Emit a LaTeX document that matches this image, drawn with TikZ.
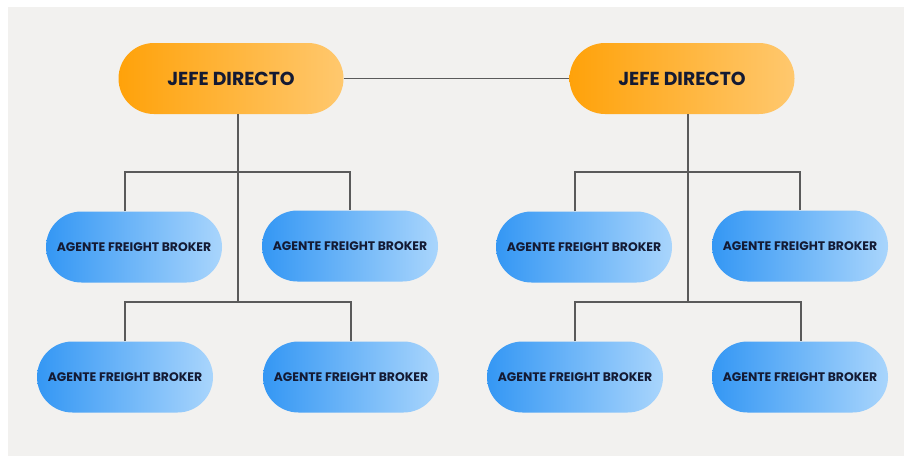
\documentclass[tikz,border=0pt]{standalone}
\usepackage{fontspec}
\setmainfont{Poppins}
\definecolor{bgpanel}{HTML}{F2F1EF}
\definecolor{linegray}{HTML}{5A5A5A}
\definecolor{txtnavy}{HTML}{141A33}
\definecolor{orangeL}{HTML}{FFA20A}
\definecolor{orangeR}{HTML}{FFC86E}
\definecolor{blueL}{HTML}{3497F4}
\definecolor{blueR}{HTML}{A9D5FC}
\tikzset{
  boss/.style={minimum width=225pt, minimum height=71pt, inner sep=0pt,
    rounded corners=35.5pt, left color=orangeL, right color=orangeR,
    font=\fontsize{18.8}{20}\selectfont\bfseries, text=txtnavy},
  agent/.style={minimum width=176pt, minimum height=71pt, inner sep=0pt,
    rounded corners=35.5pt, left color=blueL, right color=blueR,
    font=\fontsize{12.4}{14}\selectfont\bfseries, text=txtnavy},
  conn/.style={draw=linegray, line width=1.3pt}
}
\begin{document}
\begin{tikzpicture}[x=1pt,y=-1pt]
\useasboundingbox (0,0) rectangle (904,456);
\fill[white] (0,0) rectangle (904,456);
\fill[bgpanel] (8,7) rectangle (904,456);
% bosses
\node[boss] (j1) at (231,78.5) {JEFE DIRECTO};
\node[boss] (j2) at (682,78.5) {JEFE DIRECTO};
% left team
\node[agent] (a11) at (134,247) {AGENTE FREIGHT BROKER};
\node[agent] (a12) at (350,246) {AGENTE FREIGHT BROKER};
\node[agent] (a13) at (125,377) {AGENTE FREIGHT BROKER};
\node[agent] (a14) at (351,377) {AGENTE FREIGHT BROKER};
% right team
\node[agent] (a21) at (584,247) {AGENTE FREIGHT BROKER};
\node[agent] (a22) at (800,246) {AGENTE FREIGHT BROKER};
\node[agent] (a23) at (575,377) {AGENTE FREIGHT BROKER};
\node[agent] (a24) at (800,377) {AGENTE FREIGHT BROKER};
% junction coordinates
\coordinate (t1) at (238,172);
\coordinate (b1) at (238,302);
\coordinate (t2) at (688,172);
\coordinate (b2) at (688,302);
% connectors
\draw[conn] (j1.east) -- (j2.west);
\draw[conn] (j1.south -| t1) -- (b1);
\draw[conn] ([xshift=-9pt]a11.north) |- (t1) -| (a12.north);
\draw[conn] (a13.north) |- (b1) -| (a14.north);
\draw[conn] (j2.south -| t2) -- (b2);
\draw[conn] ([xshift=-9pt]a21.north) |- (t2) -| (a22.north);
\draw[conn] (a23.north) |- (b2) -| ([xshift=1pt]a24.north);
\end{tikzpicture}
\end{document}
